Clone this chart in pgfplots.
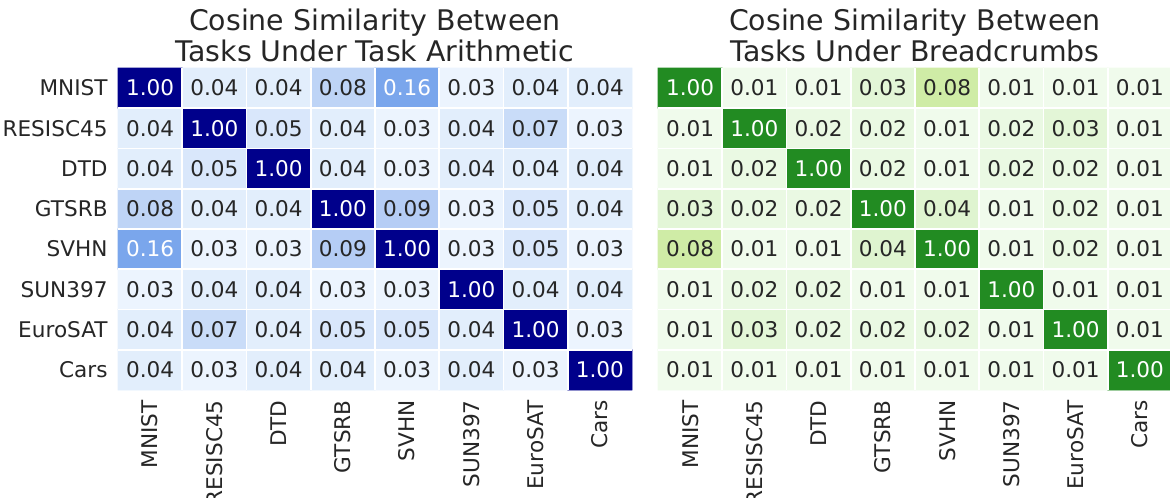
\documentclass[border=0pt]{standalone}
\usepackage{pgfplots}
\usepackage{pgfplotstable}
\pgfplotsset{compat=1.18}
\usepackage{fontspec}
\setmainfont{DejaVu Sans}
\definecolor{dk}{RGB}{38,38,38}

\pgfplotstableread{
x y z w
0 0 1.00 1
1 0 0.04 0
2 0 0.04 0
3 0 0.08 0
4 0 0.16 1
5 0 0.03 0
6 0 0.04 0
7 0 0.04 0
0 1 0.04 0
1 1 1.00 1
2 1 0.05 0
3 1 0.04 0
4 1 0.03 0
5 1 0.04 0
6 1 0.07 0
7 1 0.03 0
0 2 0.04 0
1 2 0.05 0
2 2 1.00 1
3 2 0.04 0
4 2 0.03 0
5 2 0.04 0
6 2 0.04 0
7 2 0.04 0
0 3 0.08 0
1 3 0.04 0
2 3 0.04 0
3 3 1.00 1
4 3 0.09 0
5 3 0.03 0
6 3 0.05 0
7 3 0.04 0
0 4 0.16 1
1 4 0.03 0
2 4 0.03 0
3 4 0.09 0
4 4 1.00 1
5 4 0.03 0
6 4 0.05 0
7 4 0.03 0
0 5 0.03 0
1 5 0.04 0
2 5 0.04 0
3 5 0.03 0
4 5 0.03 0
5 5 1.00 1
6 5 0.04 0
7 5 0.04 0
0 6 0.04 0
1 6 0.07 0
2 6 0.04 0
3 6 0.05 0
4 6 0.05 0
5 6 0.04 0
6 6 1.00 1
7 6 0.03 0
0 7 0.04 0
1 7 0.03 0
2 7 0.04 0
3 7 0.04 0
4 7 0.03 0
5 7 0.04 0
6 7 0.03 0
7 7 1.00 1
}\lefttab

\pgfplotstableread{
x y z w
0 0 1.00 1
1 0 0.01 0
2 0 0.01 0
3 0 0.03 0
4 0 0.08 0
5 0 0.01 0
6 0 0.01 0
7 0 0.01 0
0 1 0.01 0
1 1 1.00 1
2 1 0.02 0
3 1 0.02 0
4 1 0.01 0
5 1 0.02 0
6 1 0.03 0
7 1 0.01 0
0 2 0.01 0
1 2 0.02 0
2 2 1.00 1
3 2 0.02 0
4 2 0.01 0
5 2 0.02 0
6 2 0.02 0
7 2 0.01 0
0 3 0.03 0
1 3 0.02 0
2 3 0.02 0
3 3 1.00 1
4 3 0.04 0
5 3 0.01 0
6 3 0.02 0
7 3 0.01 0
0 4 0.08 0
1 4 0.01 0
2 4 0.01 0
3 4 0.04 0
4 4 1.00 1
5 4 0.01 0
6 4 0.02 0
7 4 0.01 0
0 5 0.01 0
1 5 0.02 0
2 5 0.02 0
3 5 0.01 0
4 5 0.01 0
5 5 1.00 1
6 5 0.01 0
7 5 0.01 0
0 6 0.01 0
1 6 0.03 0
2 6 0.02 0
3 6 0.02 0
4 6 0.02 0
5 6 0.01 0
6 6 1.00 1
7 6 0.01 0
0 7 0.01 0
1 7 0.01 0
2 7 0.01 0
3 7 0.01 0
4 7 0.01 0
5 7 0.01 0
6 7 0.01 0
7 7 1.00 1
}\righttab

\pgfplotsset{
  hm/.style={
    scale only axis,
    width=257pt, height=161pt,
    anchor=south west,
    xmin=-0.5, xmax=7.5, ymin=-0.5, ymax=7.5,
    y dir=reverse,
    xtick={0,...,7}, ytick={0,...,7},
    xticklabels={MNIST,RESISC45,DTD,GTSRB,SVHN,SUN397,EuroSAT,Cars},
    yticklabels={MNIST,RESISC45,DTD,GTSRB,SVHN,SUN397,EuroSAT,Cars},
    minor xtick={0.5,1.5,...,6.5}, minor ytick={0.5,1.5,...,6.5},
    xminorgrids=true, yminorgrids=true,
    minor grid style={white, line width=0.8pt},
    major tick length=0pt, minor tick length=0pt,
    axis line style={draw=none},
    tick style={draw=none},
    axis on top=true,
    clip=false,
    ticklabel style={font=\fontsize{10.8}{12}\selectfont, text=dk},
    xticklabel style={rotate=90, anchor=east, inner sep=0pt},
    yticklabel style={anchor=east, inner sep=0pt},
    xticklabel shift=5pt, yticklabel shift=5pt,
    point meta min=0, point meta max=1,
    title style={at={(0.5,1)}, anchor=south, yshift=-3pt, inner sep=0pt,
      align=center, font=\fontsize{14.2}{15.5}\selectfont, text=dk},
  },
  lab/.style={
    only marks, mark=*, mark size=0pt, mark options={draw=none, fill=none},
    point meta=explicit symbolic,
    nodes near coords, nodes near coords align=center,
    every node near coord/.append style={text=#1, anchor=center,
      font=\fontsize{10.8}{12}\selectfont},
  },
}

\begin{document}
\begin{tikzpicture}
\begin{axis}[hm, at={(59pt,53.5pt)},
  title={Cosine Similarity Between\\Tasks Under Task Arithmetic},
  colormap={tablue}{rgb255(0pt)=(245,250,255); rgb255(3pt)=(236,244,254); rgb255(4pt)=(226,238,252); rgb255(5pt)=(217,231,251); rgb255(7pt)=(201,220,248); rgb255(8pt)=(190,212,246); rgb255(9pt)=(181,205,245); rgb255(16pt)=(122,166,236); rgb255(100pt)=(0,0,139)},
]
\addplot[matrix plot*, mesh/cols=8, point meta=explicit] table[x=x, y=y, meta=z] \lefttab;
\addplot[lab=dk, restrict expr to domain={\thisrow{w}}{0:0}] table[x=x, y=y, meta=z] \lefttab;
\addplot[lab=white, restrict expr to domain={\thisrow{w}}{1:1}] table[x=x, y=y, meta=z] \lefttab;
\end{axis}
\begin{axis}[hm, at={(329pt,53.5pt)}, yticklabels={},
  title={Cosine Similarity Between\\Tasks Under Breadcrumbs},
  colormap={bcgreen}{rgb255(0pt)=(246,253,244); rgb255(1pt)=(240,251,236); rgb255(2pt)=(234,249,227); rgb255(3pt)=(227,246,215); rgb255(4pt)=(223,244,208); rgb255(8pt)=(207,236,166); rgb255(100pt)=(34,139,34)},
]
\addplot[matrix plot*, mesh/cols=8, point meta=explicit] table[x=x, y=y, meta=z] \righttab;
\addplot[lab=dk, restrict expr to domain={\thisrow{w}}{0:0}] table[x=x, y=y, meta=z] \righttab;
\addplot[lab=white, restrict expr to domain={\thisrow{w}}{1:1}] table[x=x, y=y, meta=z] \righttab;
\end{axis}
\pgfresetboundingbox
\useasboundingbox (0,0) rectangle (585pt,248.5pt);
\end{tikzpicture}
\end{document}
